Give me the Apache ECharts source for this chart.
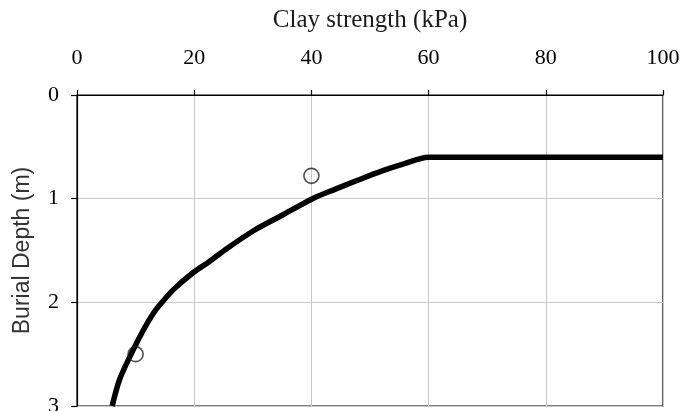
<!DOCTYPE html>
<html>
<head>
<meta charset="utf-8">
<script src="https://cdn.jsdelivr.net/npm/echarts@6/dist/echarts.min.js"></script>
<style>
html,body{margin:0;padding:0;background:#fff;}
#chart{width:683px;height:411px;}
</style>
</head>
<body>
<div id="chart"></div>
<script>
// Fitted curve: clay strength (kPa) vs burial depth (m)
var curveStrength = [6.0, 7.3, 9.4, 11.4, 13.1, 14.5, 16.5, 19.9, 22.5, 25.6, 30.4, 35.0, 40.2, 44.0, 48.0, 52.2, 55.5, 60, 100];
var curveDepth    = [3.0, 2.74, 2.48, 2.26, 2.10, 2.0, 1.875, 1.71, 1.61, 1.48, 1.30, 1.16, 1.0, 0.91, 0.82, 0.73, 0.67, 0.6, 0.6];
// Measured points
var obsStrength = [10, 40];
var obsDepth    = [2.5, 0.78];
// Axis ticks
var xTicks = [0, 20, 40, 60, 80, 100];
var yTicks = [0, 1, 2, 3];

var curveData = curveStrength.map(function (s, i) { return [s, curveDepth[i]]; });
var obsData = obsStrength.map(function (s, i) { return [s, obsDepth[i]]; });

var chart = echarts.init(document.getElementById('chart'), null, {renderer: 'canvas'});
chart.setOption({
  animation: false,
  backgroundColor: '#fff',
  grid: {left: 77, right: 20, top: 95, bottom: 5, outerBoundsMode: 'none', containLabel: false,
         show: true, borderColor: '#000', borderWidth: 1.2, backgroundColor: 'transparent'},
  xAxis: {
    type: 'value', position: 'top', min: xTicks[0], max: xTicks[xTicks.length - 1], interval: 20,
    name: 'Clay strength (kPa)', nameLocation: 'middle', nameGap: 62,
    nameTextStyle: {fontFamily: 'Liberation Serif', fontSize: 25, color: '#1a1a1a'},
    axisLine: {show: true, lineStyle: {color: '#000', width: 1.2}},
    axisTick: {show: true, inside: false, length: 5, lineStyle: {color: '#000', width: 1.2}},
    axisLabel: {fontFamily: 'Liberation Serif', fontSize: 22, color: '#000', margin: 26},
    splitLine: {show: true, lineStyle: {color: '#c8c8c8', width: 1}}
  },
  yAxis: {
    type: 'value', inverse: true, min: yTicks[0], max: yTicks[yTicks.length - 1], interval: 1,
    name: 'Burial Depth (m)', nameLocation: 'middle', nameGap: 43, nameRotate: 90,
    nameTextStyle: {fontFamily: 'Liberation Sans', fontSize: 23, color: '#333'},
    axisLine: {show: true, lineStyle: {color: '#000', width: 1.2}},
    axisTick: {show: true, inside: false, length: 6, lineStyle: {color: '#000', width: 1.2}},
    axisLabel: {fontFamily: 'Liberation Serif', fontSize: 22, color: '#000', margin: 18},
    splitLine: {show: true, lineStyle: {color: '#c8c8c8', width: 1}}
  },
  series: [
    {
      type: 'line', data: curveData, showSymbol: false, smooth: 0.3,
      lineStyle: {color: '#000', width: 5.5}, z: 2
    },
    {
      type: 'scatter', data: obsData, symbol: 'circle', symbolSize: 15,
      itemStyle: {color: 'rgba(255,255,255,0)', borderColor: '#222', borderWidth: 1.6}, z: 3
    }
  ]
});
</script>
</body>
</html>
